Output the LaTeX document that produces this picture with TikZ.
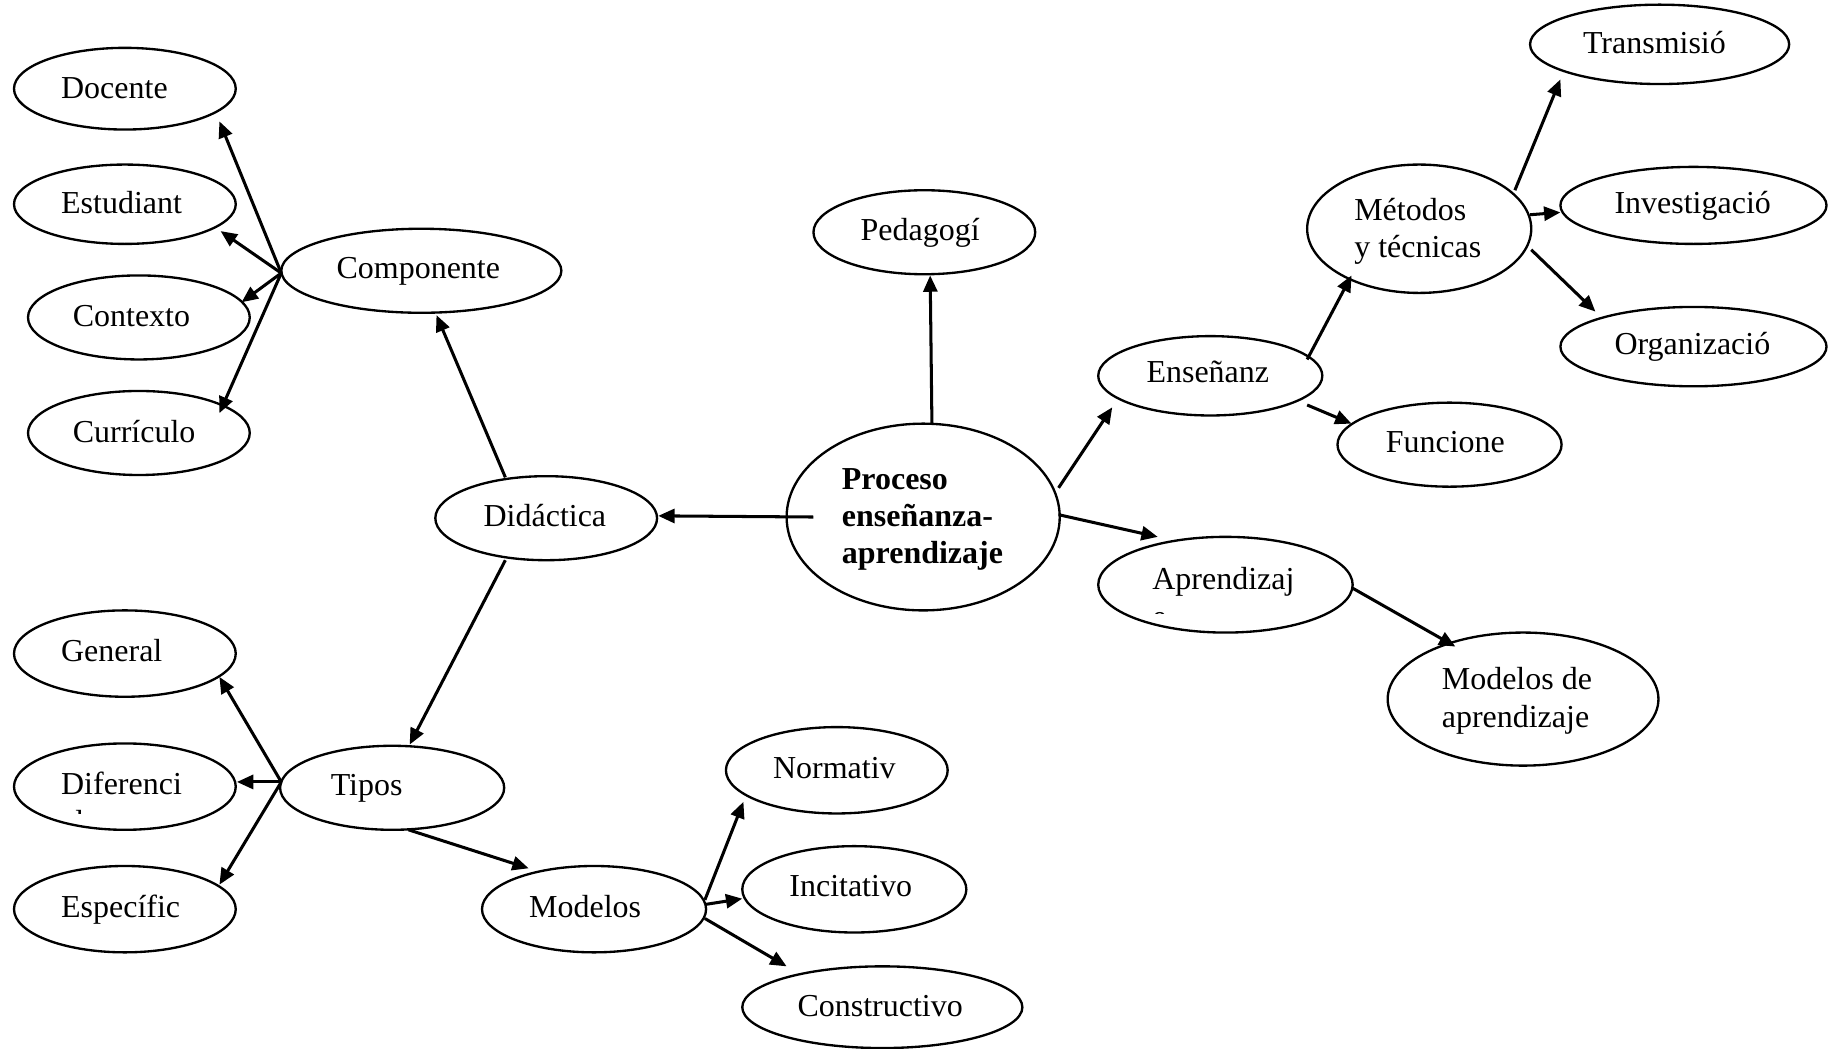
\documentclass[tikz,border=0pt]{standalone}
\usepackage{fontspec}
\setmainfont{Liberation Serif}
\usetikzlibrary{shapes.geometric,arrows.meta,calc}
\begin{document}
\begin{tikzpicture}[x=0.5pt,y=-0.5pt,
  bub/.style={draw, ellipse, inner sep=0pt, line width=1pt},
  lbl/.style={inner sep=0pt, anchor=base west, font=\fontsize{13.7}{16}\selectfont},
  blbl/.style={lbl, font=\fontsize{13.7}{16}\selectfont\bfseries},
  link/.style={line width=1.3pt, -{Triangle[length=7pt,width=6pt]}}]
\fill[white] (0,0) rectangle (1568,898);
\useasboundingbox (0,0) rectangle (1568,898);

% ---- ellipses (minimum width = rx, minimum height = ry, in pt) ----
\node[bub, minimum width=95pt,  minimum height=35pt] (doc)  at (107,76)   {};
\node[bub, minimum width=95pt,  minimum height=34pt] (est)  at (107,175)  {};
\node[bub, minimum width=95pt,  minimum height=36pt] (ctx)  at (119,272)  {};
\node[bub, minimum width=95pt,  minimum height=36pt] (cur)  at (119,371)  {};
\node[bub, minimum width=120pt, minimum height=36pt] (comp) at (361,232)  {};
\node[bub, minimum width=95pt,  minimum height=36pt] (did)  at (468,444)  {};
\node[bub, minimum width=117pt, minimum height=80pt] (proc) at (791,443)  {};
\node[bub, minimum width=95pt,  minimum height=36pt] (ped)  at (792,199)  {};
\node[bub, minimum width=96pt,  minimum height=34pt] (ens)  at (1037,322) {};
\node[bub, minimum width=96pt,  minimum height=55pt] (met)  at (1216,196) {};
\node[bub, minimum width=111pt, minimum height=34pt] (tra)  at (1422,38)  {};
\node[bub, minimum width=114pt, minimum height=33pt] (inv)  at (1451,176) {};
\node[bub, minimum width=114pt, minimum height=34pt] (org)  at (1451,297) {};
\node[bub, minimum width=96pt,  minimum height=36pt] (fun)  at (1242,381) {};
\node[bub, minimum width=109pt, minimum height=41pt] (apr)  at (1050,501) {};
\node[bub, minimum width=116pt, minimum height=57pt] (mda)  at (1305,599) {};
\node[bub, minimum width=95pt,  minimum height=37pt] (gen)  at (107,560)  {};
\node[bub, minimum width=95pt,  minimum height=37pt] (dif)  at (107,674)  {};
\node[bub, minimum width=95pt,  minimum height=37pt] (esp)  at (107,779)  {};
\node[bub, minimum width=96pt,  minimum height=36pt] (tip)  at (336,675)  {};
\node[bub, minimum width=96pt,  minimum height=37pt] (mod)  at (509,779)  {};
\node[bub, minimum width=95pt,  minimum height=37pt] (nor)  at (717,660)  {};
\node[bub, minimum width=96pt,  minimum height=37pt] (inc)  at (732,762)  {};
\node[bub, minimum width=120pt, minimum height=35pt] (con)  at (756,863)  {};

% ---- labels (left aligned inside each ellipse) ----
\node[lbl] (docT)  at ($(doc)+(-55,8)$)  {Docente};
\node[lbl] (estT)  at ($(est)+(-55,8)$)  {Estudiant};
\node[lbl] (ctxT)  at ($(ctx)+(-57,8)$)  {Contexto};
\node[lbl] (curT)  at ($(cur)+(-57,8)$)  {Currículo};
\node[lbl] (compT) at ($(comp)+(-73,7)$) {Componente};
\node[lbl] (didT)  at ($(did)+(-54,7)$)  {Didáctica};
\node[blbl] (procA) at ($(proc)+(-70,-24)$) {Proceso};
\node[blbl] (procB) at ($(proc)+(-70,8)$)   {enseñanza-};
\node[blbl] (procC) at ($(proc)+(-70,40)$)  {aprendizaje};
\node[lbl] (pedT)  at ($(ped)+(-55,7)$)  {Pedagogí};
\node[lbl] (ensT)  at ($(ens)+(-55,6)$)  {Enseñanz};
\node[lbl] (metA)  at ($(met)+(-56,-7)$) {Métodos};
\node[lbl] (metB)  at ($(met)+(-56,25)$) {y técnicas};
\node[lbl] (traT)  at ($(tra)+(-66,8)$)  {Transmisió};
\node[lbl] (invT)  at ($(inv)+(-68,7)$)  {Investigació};
\node[lbl] (orgT)  at ($(org)+(-68,7)$)  {Organizació};
\node[lbl] (funT)  at ($(fun)+(-55,7)$)  {Funcione};
\node[lbl] (aprT)  at ($(apr)+(-63,4)$)  {Aprendizaj};
\node[lbl] (mdaA)  at ($(mda)+(-70,-8)$) {Modelos de};
\node[lbl] (mdaB)  at ($(mda)+(-70,24)$) {aprendizaje};
\node[lbl] (genT)  at ($(gen)+(-55,7)$)  {General};
\node[lbl] (difT)  at ($(dif)+(-55,7)$)  {Diferenci};
\node[lbl] (espT)  at ($(esp)+(-55,7)$)  {Específic};
\node[lbl] (tipT)  at ($(tip)+(-53,7)$)  {Tipos};
\node[lbl] (modT)  at ($(mod)+(-56,7)$)  {Modelos};
\node[lbl] (norT)  at ($(nor)+(-55,7)$)  {Normativ};
\node[lbl] (incT)  at ($(inc)+(-56,6)$)  {Incitativo};
\node[lbl] (conT)  at ($(con)+(-73,8)$)  {Constructivo};

% second lines cut off by the text boxes
\begin{scope}
  \clip (0,640) rectangle (250,697);
  \node[lbl] (difT2) at ($(dif)+(-55,39)$) {al};
\end{scope}
\begin{scope}
  \clip (900,480) rectangle (1160,526);
  \node[lbl] (aprT2) at ($(apr)+(-63,37)$) {e};
\end{scope}

% ---- connectors ----
% Proceso
\draw[link] ($(proc)+(-94,0)$)   -- ($(did)+(96,-2)$);
\draw[link] ($(proc)+(7.5,-80)$) -- ($(ped)+(5,37)$);
\draw[link] ($(proc)+(116,-25)$) -- ($(ens)+(-84,27)$);
\draw[link] ($(proc)+(116,-2)$)  -- ($(apr)+(-58,-41)$);
% Enseñanza branch
\draw[link] ($(ens)+(83,-14)$) -- ($(met)+(-58,40)$);
\draw[link] ($(ens)+(83,25)$)  -- ($(fun)+(-84,-18)$);
\draw[link] ($(met)+(82,-33)$) -- ($(tra)+(-85,30)$);
\draw[link] ($(met)+(95,-12)$) -- ($(inv)+(-114,6)$);
\draw[link] ($(met)+(96,18)$)  -- ($(org)+(-84,-30)$);
% Aprendizaje branch
\draw[link] ($(apr)+(109,3)$) -- ($(mda)+(-58,-45)$);
% Didáctica branch
\draw[link] ($(did)+(-35,-35)$) -- ($(comp)+(13,38)$);
\draw[link] ($(did)+(-35,36)$)  -- ($(tip)+(15,-37)$);
% Componentes
\draw[link] ($(comp)+(-120,2)$) -- ($(doc)+(81,28)$);
\draw[link] ($(comp)+(-120,2)$) -- ($(est)+(82,23)$);
\draw[link] ($(comp)+(-120,2)$) -- ($(ctx)+(88,-13)$);
\draw[link] ($(comp)+(-120,2)$) -- ($(cur)+(69,-17)$);
% Tipos
\draw[link] ($(tip)+(-95,-5)$) -- ($(gen)+(81,20)$);
\draw[link] ($(tip)+(-95,-5)$) -- ($(dif)+(96,-4)$);
\draw[link] ($(tip)+(-95,-5)$) -- ($(esp)+(81,-21)$);
\draw[link] ($(tip)+(14,36)$)  -- ($(mod)+(-56,-35)$);
% Modelos
\draw[link] ($(mod)+(95,-8)$) -- ($(nor)+(-80,27)$);
\draw[link] ($(mod)+(95,-4)$) -- ($(inc)+(-96,8)$);
\draw[link] ($(mod)+(95,8)$)  -- ($(con)+(-82,-35)$);
\end{tikzpicture}
\end{document}
